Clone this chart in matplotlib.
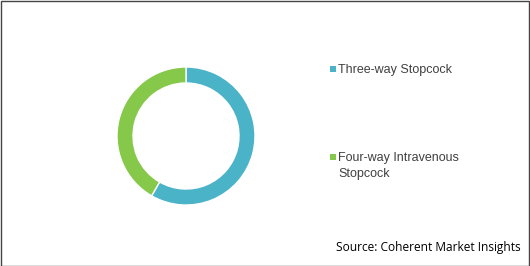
import matplotlib
matplotlib.use("Agg")
import matplotlib.pyplot as plt
from matplotlib.patches import Rectangle

categories = ["Three-way Stopcock", "Four-way Intravenous\nStopcock"]
shares = [58.3, 41.7]
colors = ["#4bb3c8", "#86c94a"]
source = "Source: Coherent Market Insights"

fig = plt.figure(figsize=(5.30, 2.66), dpi=100)
fig.patch.set_facecolor("white")

ax = fig.add_axes([186/530 - 69/530, 1 - (136 + 69)/266, 138/530, 138/266])
ax.pie(shares, colors=colors, startangle=90, counterclock=False,
       wedgeprops=dict(width=16/69, edgecolor="white", linewidth=1))
ax.set_aspect("equal")
ax.set_xlim(-1, 1)
ax.set_ylim(-1, 1)
ax.axis("off")

leg_y = [69, 157]
for cat, col, y in zip(categories, colors, leg_y):
    fig.patches.append(Rectangle(((330)/530, 1 - (y + 3)/266), 6/530, 6/266,
                                 transform=fig.transFigure, facecolor=col, edgecolor="none"))
    fig.text(338/530, 1 - (y - 5)/266, cat, fontsize=9, family="Liberation Sans",
             color="#404040", va="top", ha="left", linespacing=1.4)

fig.text(521/530, 1 - 247/266, source, fontsize=8.6, family="Open Sans",
         color="#000000", va="center", ha="right")

fig.patches.append(Rectangle((0.5/530, 0.5/266), 528.5/530, 264.5/266, transform=fig.transFigure,
                             facecolor="none", edgecolor="#444444", linewidth=1))

fig.savefig("out.png", dpi=100)
